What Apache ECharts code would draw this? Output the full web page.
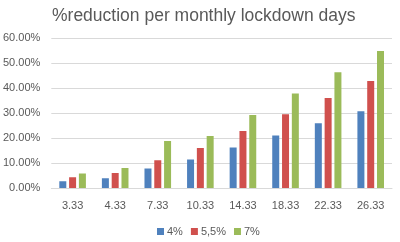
<!DOCTYPE html>
<html><head><meta charset="utf-8">
<script src="https://cdn.jsdelivr.net/npm/echarts@6/dist/echarts.min.js"></script>
<style>html,body{margin:0;padding:0;background:#fff}#c{width:400px;height:242px}</style>
</head><body><div id="c"></div>
<script>
const categories = ['3.33','4.33','7.33','10.33','14.33','18.33','22.33','26.33'];
const s4 = [2.7, 3.9, 7.8, 11.4, 16.2, 21.0, 25.9, 30.7];
const s55 = [4.3, 6.0, 11.1, 16.0, 22.8, 29.5, 36.0, 42.8];
const s7 = [5.8, 8.0, 18.8, 20.8, 29.2, 37.8, 46.3, 54.8];
const seriesNames = ['4%', '5,5%', '7%'];
const colors = ['#4F81BD', '#D0504D', '#9BBB59'];
const font = 'Liberation Sans';
const chart = echarts.init(document.getElementById('c'));
const data = [s4, s55, s7];
chart.setOption({
  animation: false,
  title: {text: '%reduction per monthly lockdown days', left: 47, top: 2,
    textStyle: {fontFamily: font, fontSize: 17.5, fontWeight: 'normal', color: '#595959'}},
  legend: {bottom: 0, left: 152, itemWidth: 7, itemHeight: 7, itemGap: 8, icon: 'rect',
    textStyle: {fontFamily: font, fontSize: 11, color: '#595959', padding: [0,0,0,-2]}},
  grid: {left: 48, right: 8, top: 38, bottom: 54},
  xAxis: {type: 'category', data: categories,
    axisLine: {lineStyle: {color: '#d9d9d9'}}, axisTick: {show: false},
    axisLabel: {fontFamily: font, fontSize: 11, color: '#595959', margin: 12}},
  yAxis: {type: 'value', min: 0, max: 60, interval: 10,
    axisLabel: {fontFamily: font, fontSize: 11, color: '#595959', margin: 11,
      formatter: v => v.toFixed(2) + '%'},
    splitLine: {lineStyle: {color: '#d9d9d9'}}},
  series: data.map((d, i) => ({name: seriesNames[i], type: 'bar', data: d,
    barWidth: 7, barGap: '40%', itemStyle: {color: colors[i]}}))
});
</script></body></html>
